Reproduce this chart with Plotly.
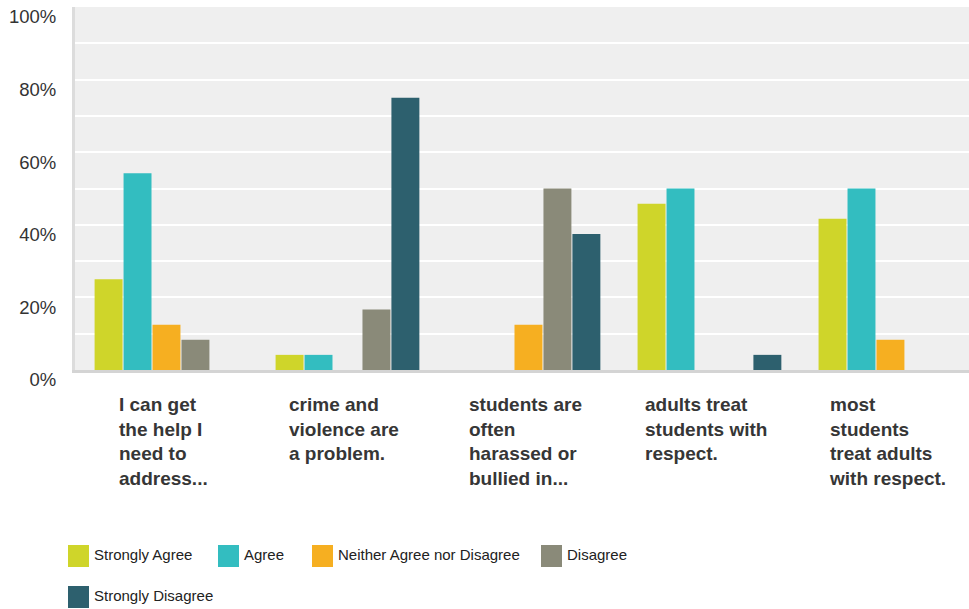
"""School climate survey: grouped bar chart of response shares."""

import plotly.graph_objects as go

categories = [
    "I can get the help I need to address...",
    "crime and violence are a problem.",
    "students are often harassed or bullied in...",
    "adults treat students with respect.",
    "most students treat adults with respect.",
]
category_labels = [
    "I can get<br>the help I<br>need to<br>address...",
    "crime and<br>violence are<br>a problem.",
    "students are<br>often<br>harassed or<br>bullied in...",
    "adults treat<br>students with<br>respect.",
    "most<br>students<br>treat adults<br>with respect.",
]
series_names = [
    "Strongly Agree",
    "Agree",
    "Neither Agree nor Disagree",
    "Disagree",
    "Strongly Disagree",
]
strongly_agree = [25.0, 4.17, 0.0, 45.83, 41.67]
agree = [54.17, 4.17, 0.0, 50.0, 50.0]
neither = [12.5, 0.0, 12.5, 0.0, 8.33]
disagree = [8.33, 16.67, 50.0, 0.0, 0.0]
strongly_disagree = [0.0, 75.0, 37.5, 4.17, 0.0]
series_colors = ["#cfd52a", "#33bdc0", "#f6af21", "#8a8a79", "#2d606e"]
y_tick_values = [0, 20, 40, 60, 80, 100]
y_tick_labels = ["0%", "20%", "40%", "60%", "80%", "100%"]

series_values = [strongly_agree, agree, neither, disagree, strongly_disagree]

# plot area in pixels (page is 969 x 609)
PLOT_LEFT, PLOT_RIGHT, PLOT_TOP, PLOT_BOTTOM = 75, 969, 7, 370
WIDTH, HEIGHT = 969, 609


def paper_x(px):
    return (px - PLOT_LEFT) / (PLOT_RIGHT - PLOT_LEFT)


def paper_y(py):
    return (PLOT_BOTTOM - py) / (PLOT_BOTTOM - PLOT_TOP)


figure = go.Figure()
for name, values, color in zip(series_names, series_values, series_colors):
    figure.add_trace(
        go.Bar(
            x=categories,
            y=values,
            name=name,
            marker={"color": color, "line": {"width": 0}},
            hovertemplate="%{x}<br>" + name + ": %{y:.2f}%<extra></extra>",
        )
    )

# category labels: left-aligned text blocks centred under each group
for category, label in zip(categories, category_labels):
    figure.add_annotation(
        x=category,
        xref="x",
        y=0,
        yref="paper",
        yanchor="top",
        xanchor="center",
        yshift=-22,
        xshift=-3,
        text=label,
        align="left",
        showarrow=False,
        font={"family": "Liberation Sans, Arial, sans-serif", "size": 19,
              "color": "#363636", "weight": "bold"},
    )

# legend drawn by hand so the swatches match the original size
legend_slots = [(68, 556), (218, 556), (312, 556), (541, 556), (68, 597)]
for (sx, sy), name, color in zip(legend_slots, series_names, series_colors):
    figure.add_shape(
        type="rect",
        xref="paper",
        yref="paper",
        x0=paper_x(sx),
        x1=paper_x(sx + 21),
        y0=paper_y(sy - 11),
        y1=paper_y(sy + 11),
        fillcolor=color,
        line={"width": 0},
    )
    figure.add_annotation(
        x=paper_x(sx + 24),
        xref="paper",
        y=paper_y(sy - 2),
        yref="paper",
        xanchor="left",
        yanchor="middle",
        text=name,
        showarrow=False,
        font={"family": "Liberation Sans, Arial, sans-serif", "size": 15,
              "color": "#222222"},
    )

figure.update_layout(
    width=WIDTH,
    height=HEIGHT,
    margin={"l": PLOT_LEFT, "r": WIDTH - PLOT_RIGHT, "t": PLOT_TOP, "b": HEIGHT - PLOT_BOTTOM,
            "pad": 0},
    paper_bgcolor="white",
    plot_bgcolor="#efefef",
    barmode="group",
    bargap=0.2,
    bargroupgap=0.035,
    showlegend=False,
    font={"family": "Liberation Sans, Arial, sans-serif", "color": "#333333"},
)
figure.update_xaxes(
    type="category",
    range=[-0.5055, 4.434],
    showticklabels=False,
    showgrid=False,
    showline=True,
    linecolor="#d4d4d4",
    linewidth=3,
    ticks="",
)
figure.update_yaxes(
    range=[0, 100],
    tickvals=y_tick_values,
    ticktext=y_tick_labels,
    ticks="",
    showgrid=True,
    gridcolor="white",
    gridwidth=2,
    minor={"tickvals": [10, 30, 50, 70, 90], "showgrid": True, "gridcolor": "white",
           "gridwidth": 2},
    zeroline=False,
    showline=True,
    linecolor="#dcdcdc",
    linewidth=3,
    tickfont={"size": 18.5, "color": "#333333"},
    ticklabelshift=10,
    ticklabelstandoff=12,
)

# drop the browser's default body margin so the figure sits at the page corner
figure.write_html(
    "out.html",
    config={"displayModeBar": False},
    post_script="document.body.style.margin = '0';",
)
